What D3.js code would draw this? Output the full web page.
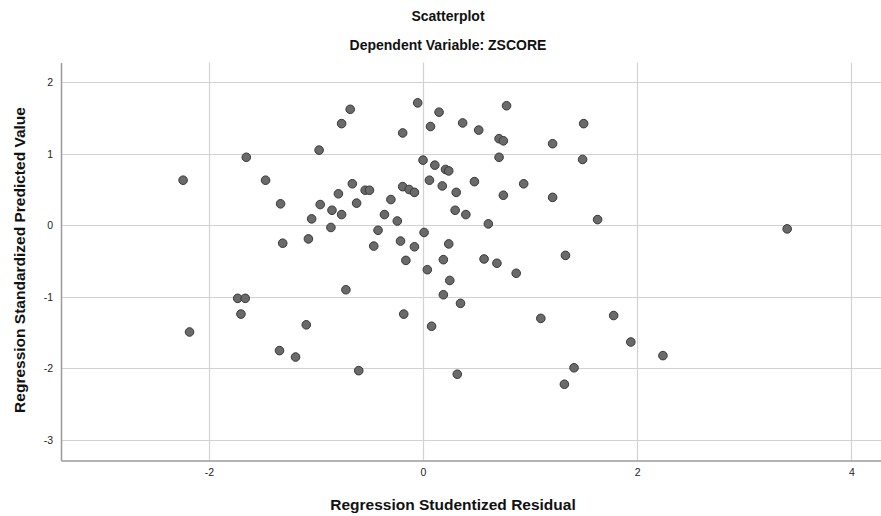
<!DOCTYPE html>
<html>
<head>
<meta charset="utf-8">
<script src="https://cdn.jsdelivr.net/npm/d3@7"></script>
<style>
  html, body { margin: 0; padding: 0; background: #fff; }
  svg { display: block; font-family: "Liberation Sans", Arial, sans-serif; }
</style>
</head>
<body>
<svg id="chart" width="881" height="516"></svg>
<script>
const title = "Scatterplot";
const subtitle = "Dependent Variable: ZSCORE";
const xLabel = "Regression Studentized Residual";
const yLabel = "Regression Standardized Predicted Value";
const xTicks = [-2, 0, 2, 4];
const yTicks = [-3, -2, -1, 0, 1, 2];

const residual = [
  -0.97, -0.76, -0.68, -0.05, 0.15, -0.19, 0.07, 0.37, 0.52, 0.78,
  0.71, 0.75, 1.21, 1.50, 0.00, 0.11, 0.21, 0.24, 0.71, 1.49,
  -0.66, -0.54, -0.50, -0.79, -0.96, -0.85, -0.76, -0.62, -1.04, -1.07,
  -0.86, -0.19, -0.13, -0.08, -0.30, -0.36, -0.24, -0.42, -0.46, -0.21,
  -0.08, -0.16, 0.01, 0.06, 0.18, 0.31, 0.48, 0.30, 0.40, 0.61,
  0.75, 0.94, 1.21, 0.24, 0.19, 0.57, 0.69, 1.33, 0.04, 0.87,
  -2.24, -1.65, -1.47, -1.33, -1.31, 1.63, 3.40, -2.18, -1.73, -1.66,
  -1.70, -1.34, -1.19, 0.25, -0.72, 0.19, 0.35, -0.18, -1.09, 0.08,
  1.10, -0.60, 0.32, 1.41, 1.32, 1.78, 1.94, 2.24
];
const predicted = [
  1.05, 1.42, 1.62, 1.71, 1.58, 1.29, 1.38, 1.43, 1.33, 1.67,
  1.21, 1.18, 1.14, 1.42, 0.91, 0.84, 0.78, 0.76, 0.95, 0.92,
  0.58, 0.49, 0.49, 0.44, 0.29, 0.21, 0.15, 0.31, 0.09, -0.19,
  -0.03, 0.54, 0.50, 0.46, 0.36, 0.15, 0.06, -0.07, -0.29, -0.22,
  -0.30, -0.49, -0.10, 0.63, 0.55, 0.46, 0.61, 0.21, 0.15, 0.02,
  0.42, 0.58, 0.39, -0.26, -0.48, -0.47, -0.53, -0.42, -0.62, -0.67,
  0.63, 0.95, 0.63, 0.30, -0.25, 0.08, -0.05, -1.49, -1.02, -1.02,
  -1.24, -1.75, -1.84, -0.77, -0.90, -0.97, -1.09, -1.24, -1.39, -1.41,
  -1.30, -2.03, -2.08, -1.99, -2.22, -1.26, -1.63, -1.82
];

const svg = d3.select("#chart");
const mLeft = 61, mRight = 881, mTop = 62.5, mBottom = 460.5;

const x = d3.scaleLinear().domain([-3.38, 4.276]).range([mLeft, mRight]);
const y = d3.scaleLinear().domain([-3.285, 2.274]).range([mBottom, mTop]);

// gridlines
svg.append("g").selectAll("line").data(yTicks).join("line")
  .attr("x1", mLeft).attr("x2", mRight)
  .attr("y1", d => Math.round(y(d)) + 0.5).attr("y2", d => Math.round(y(d)) + 0.5)
  .attr("stroke", "#d2d2d2").attr("stroke-width", 1.2);
svg.append("g").selectAll("line").data(xTicks).join("line")
  .attr("y1", mTop).attr("y2", mBottom)
  .attr("x1", d => Math.round(x(d)) + 0.5).attr("x2", d => Math.round(x(d)) + 0.5)
  .attr("stroke", "#d2d2d2").attr("stroke-width", 1.2);

// axes
const fmt = d => String(d);
const xAxis = d3.axisBottom(x).tickValues(xTicks).tickSize(0).tickPadding(8).tickFormat(fmt);
const yAxis = d3.axisLeft(y).tickValues(yTicks).tickSize(0).tickPadding(8).tickFormat(fmt);

const gx = svg.append("g").attr("transform", `translate(0,${mBottom})`).call(xAxis);
const gy = svg.append("g").attr("transform", `translate(${mLeft},0)`).call(yAxis);
[gx, gy].forEach(g => {
  g.select(".domain").attr("stroke", "#9a9a9a").attr("stroke-width", 1.5);
  g.selectAll("text").attr("font-size", 10.5).attr("fill", "#222")
    .attr("font-family", "'Liberation Sans', Arial, sans-serif");
});

// points
svg.append("g").selectAll("circle").data(residual.map((r, i) => [r, predicted[i]])).join("circle")
  .attr("cx", d => x(d[0])).attr("cy", d => y(d[1])).attr("r", 4.3)
  .attr("fill", "#6a6a6a").attr("stroke", "#383838").attr("stroke-width", 1);

// titles
svg.append("text").attr("x", 448).attr("y", 21).attr("text-anchor", "middle")
  .attr("font-size", 14).attr("font-weight", "bold").attr("fill", "#111").text(title);
svg.append("text").attr("x", 448).attr("y", 50).attr("text-anchor", "middle")
  .attr("font-size", 14).attr("font-weight", "bold").attr("fill", "#111").text(subtitle);
svg.append("text").attr("x", 453).attr("y", 510).attr("text-anchor", "middle")
  .attr("font-size", 15.5).attr("font-weight", "bold").attr("fill", "#111").text(xLabel);
svg.append("text").attr("transform", "translate(25,260) rotate(-90)").attr("text-anchor", "middle")
  .attr("font-size", 15.5).attr("font-weight", "bold").attr("fill", "#111").text(yLabel);
</script>
</body>
</html>
